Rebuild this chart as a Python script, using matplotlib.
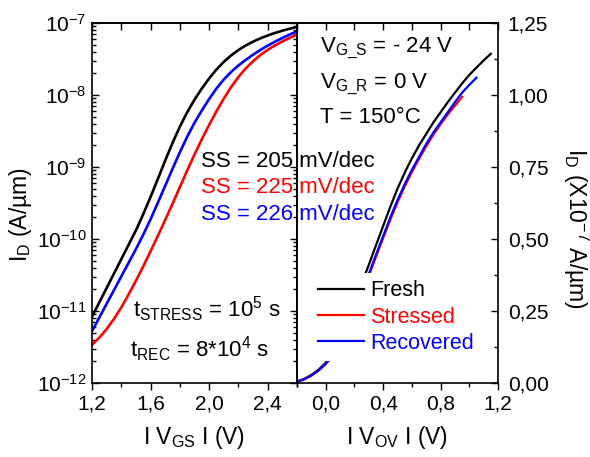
import matplotlib
matplotlib.use("Agg")
import matplotlib.pyplot as plt
from matplotlib.ticker import (MultipleLocator, FuncFormatter, LogLocator,
                               NullFormatter)

plt.rcParams['font.family'] = ['Liberation Sans', 'DejaVu Sans']
plt.rcParams['mathtext.fontset'] = 'custom'
plt.rcParams['mathtext.rm'] = 'Liberation Sans'
plt.rcParams['mathtext.it'] = 'Liberation Sans:italic'
plt.rcParams['mathtext.bf'] = 'Liberation Sans:bold'
plt.rcParams['mathtext.default'] = 'regular'

# ---- transfer characteristics, |V_GS| sweep (A/um) ----
vgs = [1.20, 1.25, 1.30, 1.35, 1.40, 1.45, 1.50, 1.55, 1.60, 1.65,
       1.70, 1.75, 1.80, 1.85, 1.90, 1.95, 2.00, 2.05, 2.10, 2.15,
       2.20, 2.25, 2.30, 2.35, 2.40, 2.45, 2.50, 2.55, 2.60]
id_fresh = [8.320e-12, 1.318e-11, 2.089e-11, 3.311e-11, 5.248e-11,
            8.318e-11, 1.318e-10, 2.213e-10, 3.846e-10, 6.839e-10,
            1.230e-9, 2.163e-9, 3.631e-9, 5.754e-9, 8.610e-9,
            1.230e-8, 1.698e-8, 2.265e-8, 2.884e-8, 3.548e-8,
            4.217e-8, 4.875e-8, 5.508e-8, 6.124e-8, 6.714e-8,
            7.278e-8, 7.816e-8, 8.337e-8, 8.831e-8]
id_stressed = [3.388e-12, 4.266e-12, 5.623e-12, 7.762e-12, 1.122e-11,
               1.698e-11, 2.630e-11, 4.169e-11, 6.761e-11, 1.109e-10,
               1.841e-10, 3.090e-10, 5.248e-10, 8.913e-10, 1.496e-9,
               2.427e-9, 3.846e-9, 5.957e-9, 8.913e-9, 1.288e-8,
               1.778e-8, 2.344e-8, 2.951e-8, 3.589e-8, 4.236e-8,
               4.887e-8, 5.546e-8, 6.223e-8, 6.918e-8]
id_recovered = [5.248e-12, 8.128e-12, 1.259e-11, 1.950e-11, 3.020e-11,
                4.677e-11, 7.244e-11, 1.148e-10, 1.884e-10, 3.199e-10,
                5.495e-10, 9.441e-10, 1.603e-9, 2.630e-9, 4.121e-9,
                6.095e-9, 8.810e-9, 1.230e-8, 1.641e-8, 2.089e-8,
                2.570e-8, 3.076e-8, 3.631e-8, 4.227e-8, 4.853e-8,
                5.508e-8, 6.194e-8, 6.918e-8, 7.674e-8]

# ---- linear drain current vs overdrive |V_OV| (x1e-7 A/um) ----
vov_fresh = [-0.20, -0.15, -0.10, -0.05, 0.00, 0.05, 0.10, 0.15, 0.20,
             0.25, 0.30, 0.35, 0.40, 0.45, 0.50, 0.55, 0.60, 0.65, 0.70,
             0.75, 0.80, 0.85, 0.90, 0.95, 1.00, 1.05, 1.10, 1.15]
ion_fresh = [0.005, 0.014, 0.028, 0.046, 0.070, 0.100, 0.150, 0.210, 0.275,
             0.345, 0.410, 0.478, 0.545, 0.612, 0.675, 0.730, 0.780, 0.825,
             0.865, 0.905, 0.940, 0.975, 1.008, 1.040, 1.070, 1.095, 1.120,
             1.143]
vov_stressed = [-0.20, -0.15, -0.10, -0.05, 0.00, 0.05, 0.10, 0.15, 0.20,
                0.25, 0.30, 0.35, 0.40, 0.45, 0.50, 0.55, 0.60, 0.65, 0.70,
                0.75, 0.80, 0.85, 0.90, 0.95]
ion_stressed = [0.005, 0.013, 0.026, 0.043, 0.066, 0.094, 0.132, 0.185,
                0.245, 0.310, 0.372, 0.438, 0.503, 0.567, 0.627, 0.682,
                0.732, 0.778, 0.822, 0.862, 0.898, 0.932, 0.963, 0.993]
vov_recovered = [-0.20, -0.15, -0.10, -0.05, 0.00, 0.05, 0.10, 0.15, 0.20,
                 0.25, 0.30, 0.35, 0.40, 0.45, 0.50, 0.55, 0.60, 0.65, 0.70,
                 0.75, 0.80, 0.85, 0.90, 0.95, 1.00, 1.05]
ion_recovered = [0.005, 0.013, 0.026, 0.044, 0.067, 0.096, 0.135, 0.190,
                 0.250, 0.315, 0.378, 0.445, 0.510, 0.575, 0.635, 0.690,
                 0.740, 0.785, 0.830, 0.870, 0.905, 0.940, 0.975, 1.008,
                 1.035, 1.060]

labels = ['Fresh', 'Stressed', 'Recovered']
colors = ['#000000', '#ff0000', '#0000ff']
ss_values = [205, 225, 226]

W, H = 590, 457
fig = plt.figure(figsize=(W / 100, H / 100), dpi=100)

x0, x1, x2 = 92, 297, 498
ytop, ybot = 23, 383
ax1 = fig.add_axes([x0 / W, 1 - ybot / H, (x1 - x0) / W, (ybot - ytop) / H])
ax2 = fig.add_axes([x1 / W, 1 - ybot / H, (x2 - x1) / W, (ybot - ytop) / H])
ax2.patch.set_visible(False)

comma1 = FuncFormatter(lambda v, p: f'{v:.1f}'.replace('.', ','))
comma2 = FuncFormatter(lambda v, p: f'{v:.2f}'.replace('.', ','))
TS = 15     # tick labels
AS = 16     # annotations
LS = 16.5   # axis titles

# ---- left panel: log scale ----
ax1.plot(vgs, id_fresh, color=colors[0], lw=1.9)
ax1.plot(vgs, id_stressed, color=colors[1], lw=1.9)
ax1.plot(vgs, id_recovered, color=colors[2], lw=1.9)
ax1.set_yscale('log')
ax1.set_xlim(1.2, 2.6)
ax1.set_ylim(1e-12, 1e-7)
ax1.xaxis.set_major_locator(MultipleLocator(0.4))
ax1.xaxis.set_minor_locator(MultipleLocator(0.2))
ax1.xaxis.set_major_formatter(comma1)
ax1.yaxis.set_major_locator(LogLocator(base=10, numticks=10))
ax1.yaxis.set_minor_locator(LogLocator(base=10, subs=range(2, 10), numticks=20))
ax1.yaxis.set_minor_formatter(NullFormatter())
ax1.tick_params(axis='y', which='both', direction='in', left=True, right=True,
                labelsize=TS, pad=4)
ax1.tick_params(axis='x', which='both', direction='out', labelsize=TS, pad=3)
ax1.tick_params(which='major', length=5, width=1)
ax1.tick_params(which='minor', length=3, width=1)
top1 = ax1.secondary_xaxis('top')
top1.xaxis.set_major_locator(MultipleLocator(0.2))
top1.tick_params(direction='in', length=5, width=1, labeltop=False)

# ---- right panel: linear scale ----
ax2.plot(vov_fresh, ion_fresh, color=colors[0], lw=1.6, label=labels[0])
ax2.plot(vov_stressed, ion_stressed, color=colors[1], lw=1.6, label=labels[1])
ax2.plot(vov_recovered, ion_recovered, color=colors[2], lw=1.6, label=labels[2])
ax2.set_xlim(-0.2, 1.2)
ax2.set_ylim(0, 1.25)
ax2.xaxis.set_major_locator(MultipleLocator(0.4))
ax2.xaxis.set_minor_locator(MultipleLocator(0.2))
ax2.xaxis.set_major_formatter(comma1)
ax2.yaxis.set_major_locator(MultipleLocator(0.25))
ax2.yaxis.set_minor_locator(MultipleLocator(0.125))
ax2.yaxis.set_major_formatter(comma2)
ax2.yaxis.tick_right()
ax2.tick_params(axis='y', which='both', direction='in', left=False, right=True,
                labelleft=False, labelright=True, labelsize=TS, pad=7)
ax2.tick_params(axis='x', which='both', direction='out', labelsize=TS, pad=3)
ax2.tick_params(which='major', length=5, width=1)
ax2.tick_params(which='minor', length=3, width=1)
top2 = ax2.secondary_xaxis('top')
top2.xaxis.set_major_locator(MultipleLocator(0.2))
top2.tick_params(direction='in', length=5, width=1, labeltop=False)

for ax in (ax1, ax2, top1, top2):
    for s in ax.spines.values():
        s.set_linewidth(1.2)

# ---- axis titles ----
ax1.set_xlabel('I V$_{\\mathrm{GS}}$ I (V)', fontsize=LS, labelpad=8)
ax2.set_xlabel('I V$_{\\mathrm{OV}}$ I (V)', fontsize=LS, labelpad=8)
fig.text(20 / W, 1 - 215 / H, 'I$_{\\mathrm{D}}$ (A/µm)', rotation=90,
         ha='center', va='center', fontsize=LS)
fig.text(576 / W, 1 - 228 / H, 'I$_{\\mathrm{D}}$ (X10$^{-7}$ A/µm)',
         rotation=270, ha='center', va='center', fontsize=LS)

# ---- annotations ----
ss_y = [0.600, 0.528, 0.453]
for v, c, yy in zip(ss_values, colors, ss_y):
    ax1.text(0.532, yy, f'SS = {v} mV/dec', color=c, fontsize=AS,
             transform=ax1.transAxes, va='baseline', ha='left', clip_on=False)

ax1.text(0.20, 0.183, 't$_{\\mathrm{STRESS}}$ = 10$^{5}$ s', fontsize=AS,
         transform=ax1.transAxes, va='baseline')
ax1.text(0.185, 0.072, 't$_{\\mathrm{REC}}$ = 8*10$^{4}$ s', fontsize=AS,
         transform=ax1.transAxes, va='baseline')

ax2.text(0.114, 0.919, 'V$_{\\mathrm{G\\_S}}$ = - 24 V', fontsize=AS,
         transform=ax2.transAxes, va='baseline')
ax2.text(0.114, 0.819, 'V$_{\\mathrm{G\\_R}}$ = 0 V', fontsize=AS,
         transform=ax2.transAxes, va='baseline')
ax2.text(0.114, 0.722, 'T = 150°C', fontsize=AS,
         transform=ax2.transAxes, va='baseline')

leg = ax2.legend(loc='upper left', bbox_to_anchor=(0.065, 0.306),
                 borderaxespad=0, frameon=True, fancybox=False,
                 facecolor='white', edgecolor='none', framealpha=1,
                 fontsize=15.5, handlelength=2.15, handletextpad=0.3,
                 labelspacing=0.24, borderpad=0.35)
leg.set_zorder(5)
for t, c in zip(leg.get_texts(), colors):
    t.set_color(c)

fig.savefig('out.png', dpi=100)
